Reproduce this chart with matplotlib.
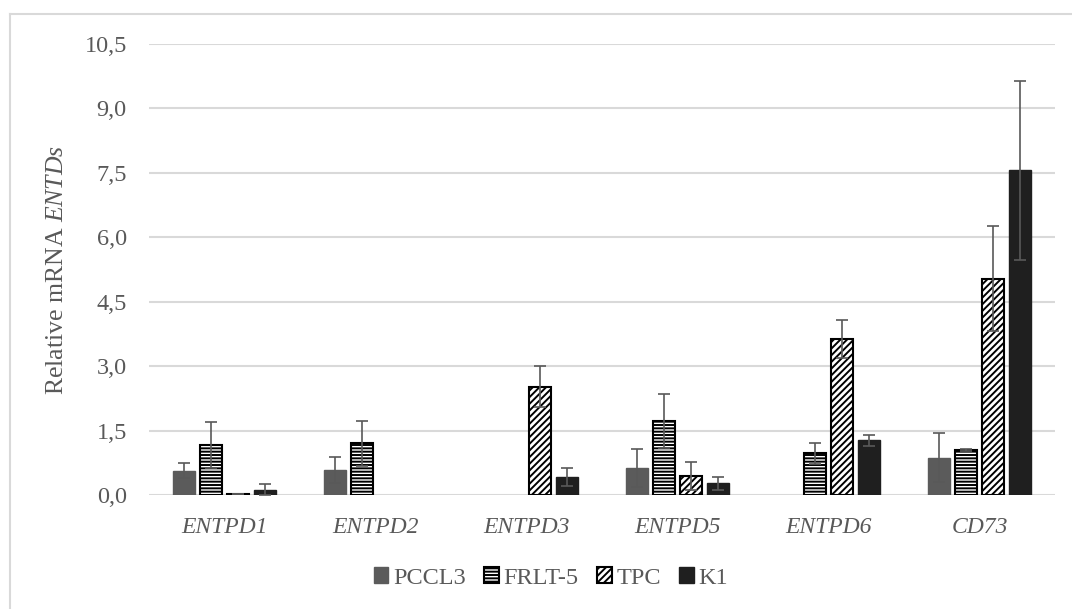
import matplotlib
matplotlib.use('Agg')
import matplotlib.pyplot as plt
from matplotlib.patches import Patch
from matplotlib.lines import Line2D
import numpy as np

# data
genes = ['ENTPD1', 'ENTPD2', 'ENTPD3', 'ENTPD5', 'ENTPD6', 'CD73']
lines = ['PCCL3', 'FRLT-5', 'TPC', 'K1']
pccl3 = [0.57, 0.58, np.nan, 0.62, np.nan, 0.87]
pccl3_err = [0.17, 0.30, np.nan, 0.44, np.nan, 0.57]
frlt5 = [1.16, 1.20, np.nan, 1.73, 0.97, 1.05]
frlt5_err = [0.53, 0.53, np.nan, 0.63, 0.25, 0.03]
tpc = [0.02, np.nan, 2.52, 0.44, 3.64, 5.04]
tpc_err = [0.0, np.nan, 0.48, 0.33, 0.44, 1.23]
k1 = [0.12, np.nan, 0.43, 0.27, 1.27, 7.56]
k1_err = [0.13, np.nan, 0.21, 0.16, 0.12, 2.09]
yticks = [0, 1.5, 3.0, 4.5, 6.0, 7.5, 9.0, 10.5]

plt.rcParams['font.family'] = ['Liberation Serif', 'DejaVu Serif']
plt.rcParams['mathtext.fontset'] = 'custom'
plt.rcParams['mathtext.rm'] = 'Liberation Serif'
plt.rcParams['mathtext.it'] = 'Liberation Serif:italic'
plt.rcParams['hatch.linewidth'] = 1.4
plt.rcParams['hatch.color'] = 'black'

txt = '#595959'
fig = plt.figure(figsize=(10.72, 6.09), dpi=100)
ax = fig.add_axes([149 / 1072, 1 - 495 / 609, 906 / 1072, 451 / 609])

x = np.arange(len(genes))
step = 0.179
w = 0.142
series = [
    (pccl3, pccl3_err, dict(color='#5b5b5b', edgecolor='#5b5b5b')),
    (frlt5, frlt5_err, dict(color='white', edgecolor='black', hatch='-----', lw=1.5)),
    (tpc, tpc_err, dict(color='white', edgecolor='black', hatch='/////', lw=1.5)),
    (k1, k1_err, dict(color='#1f1f1f', edgecolor='#1f1f1f')),
]
for i, (vals, errs, style) in enumerate(series):
    pos = x + (i - 1.5) * step
    ax.bar(pos, vals, width=w, zorder=2, **style)
    ax.errorbar(pos, vals, yerr=errs, fmt='none', ecolor='#595959',
                elinewidth=1.2, capsize=4, capthick=1.2, zorder=3)

ax.set_xlim(-0.5, len(genes) - 0.5)
ax.set_ylim(0, 10.5)
ax.set_yticks(yticks)
ax.set_yticklabels([f'{v:.1f}'.replace('.', ',') for v in yticks])
ax.set_xticks(x)
ax.set_xticklabels(genes, fontstyle='italic')
ax.tick_params(axis='both', length=0, colors=txt, labelsize=17.5)
ax.tick_params(axis='x', labelsize=17)
ax.tick_params(axis='y', pad=16)
ax.tick_params(axis='x', pad=16)
ax.grid(axis='y', color='#d9d9d9', lw=1.5, zorder=0)
ax.set_axisbelow(True)
for s in ax.spines.values():
    s.set_visible(False)
ax.set_ylabel(r'Relative mRNA $\mathit{ENTDs}$', fontsize=18.5, color=txt, labelpad=12)

handles = [
    Patch(facecolor='#5b5b5b', edgecolor='#5b5b5b'),
    Patch(facecolor='white', edgecolor='black', hatch='-----', lw=1.5),
    Patch(facecolor='white', edgecolor='black', hatch='/////', lw=1.5),
    Patch(facecolor='#1f1f1f', edgecolor='#1f1f1f'),
]
leg = fig.legend(handles, lines, loc='center', bbox_to_anchor=(551 / 1072, 1 - 578 / 609),
                 ncol=4, frameon=False, fontsize=17.5, handlelength=0.6, handleheight=0.6,
                 handletextpad=0.2, columnspacing=0.75)
for t in leg.get_texts():
    t.set_color(txt)

# chart area border (left and top)
fig.add_artist(Line2D([10 / 1072, 10 / 1072], [0, 1 - 14 / 609], color='#d9d9d9', lw=1.5))
fig.add_artist(Line2D([10 / 1072, 1], [1 - 14 / 609, 1 - 14 / 609], color='#d9d9d9', lw=1.5))

fig.savefig('out.png', dpi=100)
